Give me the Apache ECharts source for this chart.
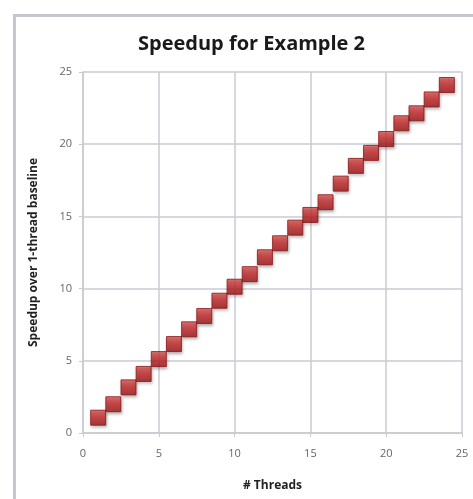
<!DOCTYPE html>
<html>
<head>
<meta charset="utf-8">
<script src="https://cdn.jsdelivr.net/npm/echarts@6/dist/echarts.min.js"></script>
<style>
  html, body { margin: 0; padding: 0; background: #fff; }
  #chart { width: 473px; height: 499px; }
</style>
</head>
<body>
<div id="chart"></div>
<script>
// thread counts and measured speedup
const threads = [1, 2, 3, 4, 5, 6, 7, 8, 9, 10, 11, 12, 13, 14, 15, 16, 17, 18, 19, 20, 21, 22, 23, 24];
const speedup = [1.06, 1.99, 3.16, 4.09, 5.12, 6.16, 7.18, 8.1, 9.16, 10.13, 11.0, 12.17,
                 13.14, 14.22, 15.1, 15.98, 17.27, 18.5, 19.4, 20.36, 21.45, 22.14, 23.1, 24.1];
const xTicks = [0, 5, 10, 15, 20, 25];
const yTicks = [0, 5, 10, 15, 20, 25];

const gridColor = '#cacad4';
const chart = echarts.init(document.getElementById('chart'));

const option = {
  backgroundColor: '#fff',
  animation: false,
  title: {
    text: 'Speedup for Example 2',
    left: 133,
    top: 29,
    textStyle: { fontFamily: 'Open Sans', fontWeight: 'bold', fontSize: 20, color: '#1a1a1a' }
  },
  graphic: [{
    type: 'rect',
    left: 12, top: 13,
    shape: { width: 480, height: 500 },
    style: { fill: 'none', stroke: '#c6c6d0', lineWidth: 3 },
    silent: true
  }],
  grid: { left: 83, right: 11, top: 72, bottom: 66 },
  xAxis: {
    type: 'value',
    min: xTicks[0], max: xTicks[xTicks.length - 1], interval: 5,
    name: '# Threads',
    nameLocation: 'middle',
    nameGap: 47,
    nameTextStyle: { fontFamily: 'Open Sans', fontWeight: 'bold', fontSize: 12, color: '#222' },
    axisLine: { lineStyle: { color: gridColor, width: 1.5 } },
    axisTick: { show: true, length: 4, lineStyle: { color: gridColor } },
    axisLabel: { fontFamily: 'Open Sans', fontSize: 11, color: '#666', margin: 15 },
    splitLine: { show: true, lineStyle: { color: gridColor, width: 1.5 } }
  },
  yAxis: {
    type: 'value',
    min: yTicks[0], max: yTicks[yTicks.length - 1], interval: 5,
    name: 'Speedup over 1-thread baseline',
    nameLocation: 'middle',
    nameGap: 43,
    nameTextStyle: { fontFamily: 'Open Sans', fontWeight: 'bold', fontSize: 12, color: '#222' },
    axisLine: { show: true, lineStyle: { color: gridColor, width: 1.5 } },
    axisTick: { show: true, length: 4, lineStyle: { color: gridColor } },
    axisLabel: { fontFamily: 'Open Sans', fontSize: 11, color: '#666', margin: 11 },
    splitLine: { show: true, lineStyle: { color: gridColor, width: 1.5 } }
  },
  series: [{
    type: 'scatter',
    symbol: 'rect',
    symbolSize: 15,
    data: threads.map((t, i) => [t, speedup[i]]),
    itemStyle: {
      color: new echarts.graphic.LinearGradient(0, 0, 0, 1, [
        { offset: 0, color: '#e35a58' },
        { offset: 0.45, color: '#c7282a' },
        { offset: 1, color: '#9a1517' }
      ]),
      borderColor: '#8a1414',
      borderWidth: 1,
      shadowBlur: 3,
      shadowColor: 'rgba(0,0,0,0.35)',
      shadowOffsetX: 1,
      shadowOffsetY: 2
    }
  }]
};

chart.setOption(option);
</script>
</body>
</html>
